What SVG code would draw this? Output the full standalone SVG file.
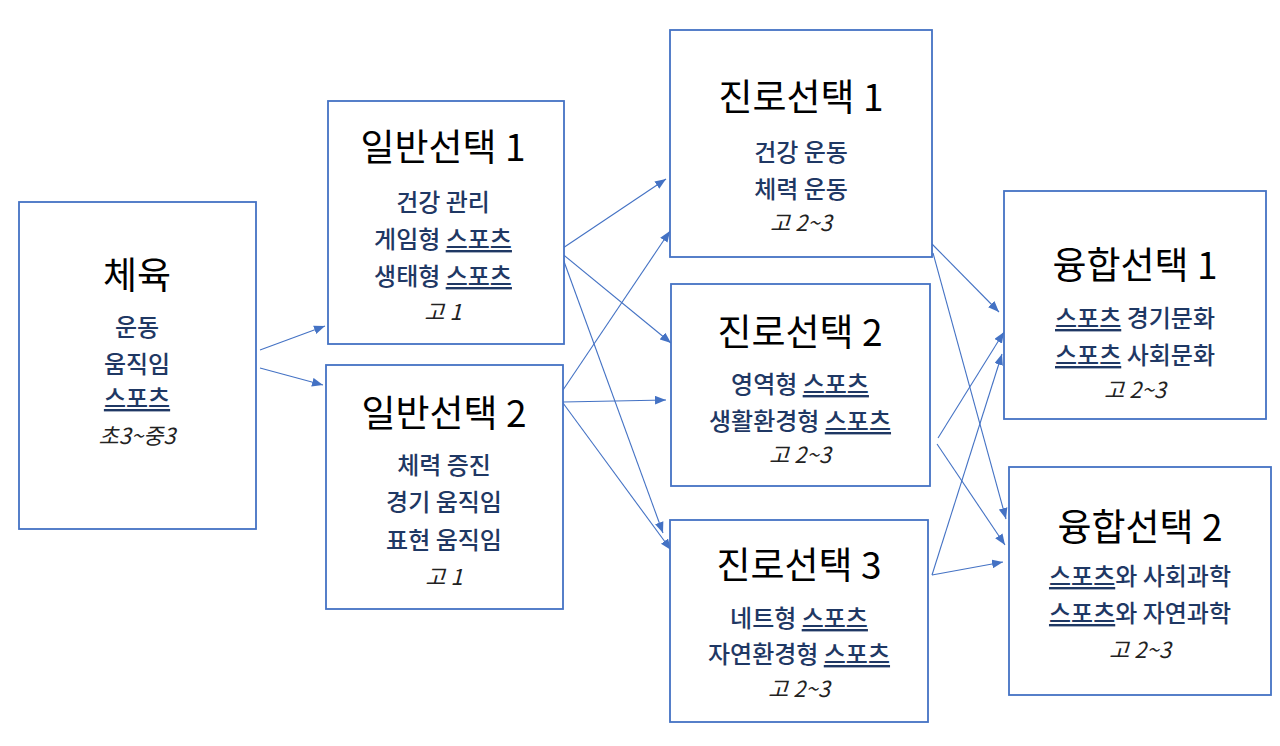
<svg xmlns="http://www.w3.org/2000/svg" width="1280" height="746" viewBox="0 0 1280 746">
<defs>
<marker id="ah" viewBox="0 0 10 8" refX="10" refY="4" markerWidth="11" markerHeight="9" markerUnits="userSpaceOnUse" orient="auto">
<path d="M0,0 L10,4 L0,8 Z" fill="#4472C4"/>
</marker>
<style>
.box{fill:#fff;stroke:#4472C4;stroke-width:1.8}
.t{font-family:"Noto Sans CJK KR","Noto Sans",sans-serif;text-anchor:middle}
.h{font-size:37px;fill:#000}
.b{font-size:24px;fill:#1F3864;font-weight:500}
.i{font-size:22px;fill:#222;font-style:italic}
.u{text-decoration:underline}
.c{stroke:#4472C4;stroke-width:1.1;fill:none;marker-end:url(#ah)}
</style>
</defs>
<rect width="1280" height="746" fill="#fff"/>
<g id="connectors">
<line class="c" x1="260" y1="350" x2="325" y2="326"/>
<line class="c" x1="260" y1="368" x2="323" y2="385"/>
<line class="c" x1="560" y1="250" x2="666" y2="179"/>
<line class="c" x1="560" y1="252" x2="671" y2="343"/>
<line class="c" x1="562" y1="256" x2="663" y2="533"/>
<line class="c" x1="563" y1="390" x2="670" y2="231"/>
<line class="c" x1="563" y1="402" x2="666" y2="400"/>
<line class="c" x1="563" y1="403" x2="671" y2="550"/>
<line class="c" x1="932" y1="244" x2="999" y2="312"/>
<line class="c" x1="933" y1="253" x2="1006" y2="519"/>
<line class="c" x1="938" y1="438" x2="1004" y2="332"/>
<line class="c" x1="937" y1="444" x2="1005" y2="545"/>
<line class="c" x1="932" y1="575" x2="1002" y2="354"/>
<line class="c" x1="932" y1="575" x2="1003" y2="562"/>
</g>
<g id="n-pe">
<rect class="box" x="19" y="202" width="237" height="327"/>
<text class="t h" x="137" y="289">체육</text>
<text class="t b" x="137" y="336">운동</text>
<text class="t b" x="137" y="373">움직임</text>
<text class="t b" x="137" y="407"><tspan class="u">스포츠</tspan></text>
<text class="t i" x="137" y="444">초3~중3</text>
</g>
<g id="n-gen1">
<rect class="box" x="328" y="101" width="236" height="243"/>
<text class="t h" x="443" y="161">일반선택 1</text>
<text class="t b" x="443" y="211">건강 관리</text>
<text class="t b" x="443" y="248">게임형 <tspan class="u">스포츠</tspan></text>
<text class="t b" x="443" y="285">생태형 <tspan class="u">스포츠</tspan></text>
<text class="t i" x="443" y="320">고 1</text>
</g>
<g id="n-gen2">
<rect class="box" x="326" y="365" width="237" height="244"/>
<text class="t h" x="444" y="427">일반선택 2</text>
<text class="t b" x="444" y="474">체력 증진</text>
<text class="t b" x="444" y="511">경기 움직임</text>
<text class="t b" x="444" y="549">표현 움직임</text>
<text class="t i" x="444" y="585">고 1</text>
</g>
<g id="n-car1">
<rect class="box" x="670" y="30" width="262" height="227"/>
<text class="t h" x="801" y="111">진로선택 1</text>
<text class="t b" x="801" y="161">건강 운동</text>
<text class="t b" x="801" y="198">체력 운동</text>
<text class="t i" x="801" y="231">고 2~3</text>
</g>
<g id="n-car2">
<rect class="box" x="671" y="284" width="259" height="202"/>
<text class="t h" x="800" y="346">진로선택 2</text>
<text class="t b" x="800" y="393">영역형 <tspan class="u">스포츠</tspan></text>
<text class="t b" x="800" y="430">생활환경형 <tspan class="u">스포츠</tspan></text>
<text class="t i" x="800" y="463">고 2~3</text>
</g>
<g id="n-car3">
<rect class="box" x="670" y="520" width="258" height="202"/>
<text class="t h" x="799" y="579">진로선택 3</text>
<text class="t b" x="799" y="627">네트형 <tspan class="u">스포츠</tspan></text>
<text class="t b" x="799" y="663">자연환경형 <tspan class="u">스포츠</tspan></text>
<text class="t i" x="799" y="697">고 2~3</text>
</g>
<g id="n-fus1">
<rect class="box" x="1004" y="191" width="262" height="228"/>
<text class="t h" x="1135" y="279">융합선택 1</text>
<text class="t b" x="1135" y="327"><tspan class="u">스포츠</tspan> 경기문화</text>
<text class="t b" x="1135" y="364"><tspan class="u">스포츠</tspan> 사회문화</text>
<text class="t i" x="1135" y="398">고 2~3</text>
</g>
<g id="n-fus2">
<rect class="box" x="1009" y="467" width="262" height="228"/>
<text class="t h" x="1140" y="541">융합선택 2</text>
<text class="t b" x="1140" y="585"><tspan class="u">스포츠</tspan>와 사회과학</text>
<text class="t b" x="1140" y="622"><tspan class="u">스포츠</tspan>와 자연과학</text>
<text class="t i" x="1140" y="658">고 2~3</text>
</g>
</svg>
